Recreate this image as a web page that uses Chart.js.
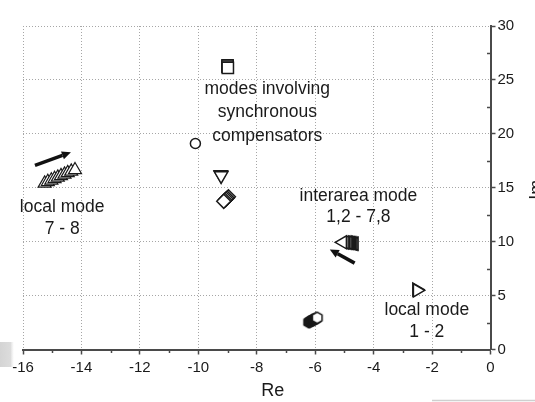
<!DOCTYPE html>
<html>
<head>
<meta charset="utf-8">
<script src="https://cdn.jsdelivr.net/npm/chart.js@4.4.1/dist/chart.umd.min.js"></script>
<style>
  html, body { margin: 0; padding: 0; background: #fff; }
  #wrap { width: 535px; height: 402px; position: relative; }
</style>
</head>
<body>
<div id="wrap"><canvas id="c" width="535" height="402"></canvas></div>
<script>
// Axis extents and tick marks
const reLimits = [-16, 0];
const imLimits = [0, 30];
const reMinorTicks = [-15, -13, -11, -9, -7, -5, -3, -1];
const imMinorTicks = [2.5, 7.5, 12.5, 17.5, 22.5, 27.5];

// Eigenvalue loci (real part, imaginary part)
const syncSquareRe = [-9.00, -9.00, -8.99];
const syncSquareIm = [26.34, 26.24, 26.12];
const syncCircleRe = [-10.10];
const syncCircleIm = [19.1];
const syncTriangleRe = [-9.23, -9.22];
const syncTriangleIm = [16.22, 16.12];
const syncDiamondRe = [-8.97, -9.01, -9.05, -9.09, -9.13];
const syncDiamondIm = [14.16, 14.05, 13.95, 13.84, 13.74];
const local78Re = [-15.26, -15.15, -15.03, -14.92, -14.81, -14.70, -14.58, -14.47, -14.35, -14.22];
const local78Im = [15.41, 15.55, 15.69, 15.83, 15.96, 16.10, 16.24, 16.38, 16.52, 16.65];
const interareaRe = [-4.66, -4.70, -4.74, -4.78, -4.82, -4.86, -4.90, -4.95, -5.00, -5.06];
const interareaIm = [9.80, 9.82, 9.85, 9.87, 9.88, 9.90, 9.91, 9.92, 9.93, 9.94];
const hexRe = [-6.22, -6.18, -6.14, -6.10, -6.06, -6.02, -5.97, -5.93];
const hexIm = [2.53, 2.58, 2.64, 2.70, 2.76, 2.82, 2.88, 2.94];
const local12Re = [-2.53, -2.51];
const local12Im = [5.56, 5.48];

// Direction arrows along the loci
const arrowTailRe = [-15.59, -4.65];
const arrowTailIm = [17.08, 8.01];
const arrowTipRe = [-14.36, -5.50];
const arrowTipIm = [18.29, 9.28];

// Mode labels
const noteLines = [
  ['modes involving', 'synchronous', 'compensators'],
  ['local mode', '7 - 8'],
  ['interarea mode', '1,2 - 7,8'],
  ['local mode', '1 - 2']
];

const FONT = "'Liberation Sans', Arial, Helvetica, sans-serif";
const INK = '#1a1a1a';
const AXIS = '#4a4a4a';

const zip = (re, im) => re.map((v, i) => ({ x: v, y: im[i] }));

// hexagon markers (solid and open)
function hexagon(fill) {
  const cv = document.createElement('canvas');
  cv.width = 14; cv.height = 14;
  const g = cv.getContext('2d');
  g.beginPath();
  for (let k = 0; k < 6; k++) {
    const t = Math.PI / 6 + k * Math.PI / 3;
    const px = 7 + 5.6 * Math.cos(t), py = 7 + 5.6 * Math.sin(t);
    k ? g.lineTo(px, py) : g.moveTo(px, py);
  }
  g.closePath();
  g.fillStyle = fill; g.fill();
  g.lineWidth = 1.5; g.strokeStyle = INK; g.stroke();
  return cv;
}
const hexSolid = hexagon('#111');
const hexOpen = hexagon('#fff');

function markers(data, style, radius, rotation, border) {
  return {
    data, pointStyle: style, pointRadius: radius, pointHoverRadius: radius,
    rotation: rotation || 0,
    pointBorderColor: INK, pointBackgroundColor: '#fff', pointBorderWidth: border || 1.5,
    showLine: false
  };
}

const datasets = [
  markers(zip(syncSquareRe, syncSquareIm), 'rect', 8),
  markers(zip(syncCircleRe, syncCircleIm), 'circle', 5),
  markers(zip(syncTriangleRe, syncTriangleIm), 'triangle', 7.8, 180),
  markers(zip(syncDiamondRe, syncDiamondIm), 'rectRot', 7),
  markers(zip(local78Re, local78Im), 'triangle', 7.5, 0, 1.2),
  markers(zip(interareaRe, interareaIm), 'triangle', 7.5, 270),
  Object.assign(markers(zip(hexRe, hexIm), 'circle', 6), {
    pointStyle: (c) => c.dataIndex === hexRe.length - 1 ? hexOpen : hexSolid
  }),
  markers(zip(local12Re, local12Im), 'triangle', 7.5, 90)
];

const notes = [
  { re: -7.64, im: 24.16, gap: 23.5 },
  { re: -14.66, im: 13.2, gap: 22 },
  { re: -4.52, im: 14.2, gap: 21 },
  { re: -2.18, im: 3.62, gap: 22 }
];

const decor = {
  id: 'decor',
  beforeDraw(chart) {
    const { ctx } = chart;
    ctx.save();
    // scanner shading at the page edges
    const gr = ctx.createLinearGradient(0, 0, 14, 0);
    gr.addColorStop(0, '#d4d4d4');
    gr.addColorStop(0.75, '#dcdcdc');
    gr.addColorStop(1, 'rgba(230,230,230,0)');
    ctx.fillStyle = gr;
    ctx.fillRect(0, 342, 14, 25);
    ctx.strokeStyle = '#cfcfcf';
    ctx.lineWidth = 1.5;
    ctx.beginPath(); ctx.moveTo(432, 400.5); ctx.lineTo(535, 400.5); ctx.stroke();
    ctx.restore();
  },
  afterDatasetsDraw(chart) {
    const { ctx, scales: { x, y } } = chart;
    ctx.save();
    ctx.fillStyle = '#111'; ctx.strokeStyle = '#111';
    arrowTailRe.forEach((_, i) => {
      const x0 = x.getPixelForValue(arrowTailRe[i]), y0 = y.getPixelForValue(arrowTailIm[i]);
      const x1 = x.getPixelForValue(arrowTipRe[i]), y1 = y.getPixelForValue(arrowTipIm[i]);
      const ang = Math.atan2(y1 - y0, x1 - x0);
      const headLen = 9, headHalf = 4.2;
      const bx = x1 - headLen * Math.cos(ang), by = y1 - headLen * Math.sin(ang);
      ctx.lineWidth = 3.6; ctx.lineCap = 'butt';
      ctx.beginPath(); ctx.moveTo(x0, y0); ctx.lineTo(bx, by); ctx.stroke();
      ctx.beginPath();
      ctx.moveTo(x1, y1);
      ctx.lineTo(bx + headHalf * Math.sin(ang), by - headHalf * Math.cos(ang));
      ctx.lineTo(bx - headHalf * Math.sin(ang), by + headHalf * Math.cos(ang));
      ctx.closePath(); ctx.fill();
    });
    ctx.restore();
  },
  afterDraw(chart) {
    const { ctx, chartArea: a, scales: { x, y } } = chart;
    ctx.save();
    // minor ticks
    ctx.strokeStyle = AXIS; ctx.lineWidth = 1.5;
    reMinorTicks.forEach(v => {
      const px = Math.round(x.getPixelForValue(v)) + 0.5;
      ctx.beginPath(); ctx.moveTo(px, a.bottom); ctx.lineTo(px, a.bottom + 3.5); ctx.stroke();
    });
    imMinorTicks.forEach(v => {
      const py = Math.round(y.getPixelForValue(v)) + 0.5;
      ctx.beginPath(); ctx.moveTo(a.right - 3.5, py); ctx.lineTo(a.right, py); ctx.stroke();
    });
    // mode labels
    ctx.fillStyle = INK;
    ctx.font = '17.5px ' + FONT;
    ctx.textAlign = 'center'; ctx.textBaseline = 'middle';
    notes.forEach((n, i) => {
      const cx = x.getPixelForValue(n.re), cy = y.getPixelForValue(n.im);
      noteLines[i].forEach((t, k) => ctx.fillText(t, cx, cy + k * n.gap));
    });
    // axis titles
    ctx.font = '18px ' + FONT;
    ctx.fillText('Re', (a.left + a.right) / 2 + 16, a.bottom + 41.5);
    ctx.translate(537, (a.top + a.bottom) / 2 + 2);
    ctx.rotate(-Math.PI / 2);
    ctx.fillText('Im', 0, 0);
    ctx.restore();
  }
};

const gridStyle = {
  color: '#a6a6a6', lineWidth: 1,
  tickColor: AXIS, tickLength: 5, tickWidth: 1.5
};

new Chart(document.getElementById('c'), {
  type: 'scatter',
  data: { datasets },
  options: {
    responsive: false,
    animation: false,
    devicePixelRatio: 1,
    layout: { padding: { top: 26, left: 23, right: 0, bottom: 0 } },
    plugins: { legend: { display: false }, tooltip: { enabled: false } },
    scales: {
      x: {
        type: 'linear', position: 'bottom',
        min: reLimits[0], max: reLimits[1],
        afterFit: (s) => { s.height = 52.5; },
        ticks: { stepSize: 2, color: INK, font: { family: FONT, size: 15 }, padding: 4, maxRotation: 0, autoSkip: false },
        grid: gridStyle,
        border: { color: AXIS, width: 2, dash: [1, 2] }
      },
      y: {
        type: 'linear', position: 'right',
        min: imLimits[0], max: imLimits[1],
        afterFit: (s) => { s.width = 44.5; },
        ticks: { stepSize: 5, color: INK, font: { family: FONT, size: 15 }, padding: 2 },
        grid: gridStyle,
        border: { color: AXIS, width: 2, dash: [1, 2] }
      }
    }
  },
  plugins: [decor]
});
</script>
</body>
</html>
